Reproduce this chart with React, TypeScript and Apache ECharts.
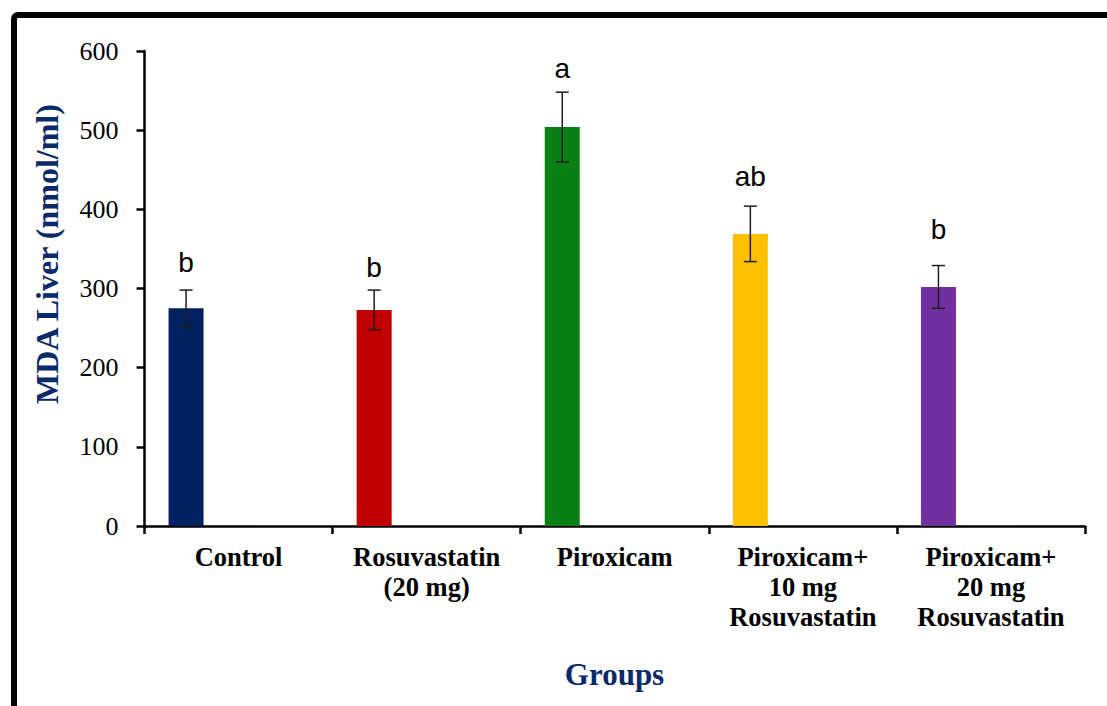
import React, { useEffect, useRef } from "react";
import * as echarts from "echarts";

const categories = [
  "Control",
  "Rosuvastatin\n(20 mg)",
  "Piroxicam",
  "Piroxicam+\n10 mg\nRosuvastatin",
  "Piroxicam+\n20 mg\nRosuvastatin",
];
const means = [275, 273, 504, 369, 302];
const errors = [23, 25, 44, 35, 27];
const letters = ["b", "b", "a", "ab", "b"];
const letterValues = [333, 326, 578, 441, 375];
const barColors = ["#002060", "#C00000", "#0A8014", "#FFC000", "#7030A0"];
const yMin = 0;
const yMax = 600;
const yInterval = 100;

const BAR_WIDTH = 35;
const BAR_GAP = 2; // 200%
const OFFSET = -(BAR_WIDTH * 2 + BAR_WIDTH * BAR_GAP) / 2 + BAR_WIDTH / 2;

export default function App() {
  const ref = useRef<HTMLDivElement>(null);
  useEffect(() => {
    if (!ref.current) return;
    const chart = echarts.init(ref.current, null, { renderer: "svg" });
    const serif = "'Liberation Serif', 'Times New Roman', serif";
    const blue = "#0b2a6b";
    chart.setOption({
      animation: false,
      backgroundColor: "#ffffff",
      grid: { left: 144.5, right: 22, top: 51, bottom: 180, containLabel: false },
      xAxis: {
        type: "category",
        data: categories,
        axisLine: { show: true, lineStyle: { color: "#000", width: 2.5 } },
        axisTick: { show: true, length: 8, lineStyle: { color: "#000", width: 2.5 } },
        axisLabel: {
          color: "#000",
          fontFamily: serif,
          fontWeight: "bold",
          fontSize: 26.5,
          lineHeight: 30,
          margin: 16,
          interval: 0,
        },
        splitLine: { show: false },
      },
      yAxis: {
        type: "value",
        min: yMin,
        max: yMax,
        interval: yInterval,
        axisLine: { show: true, lineStyle: { color: "#000", width: 2.5 } },
        axisTick: { show: true, length: 8, lineStyle: { color: "#000", width: 2.5 } },
        axisLabel: { color: "#000", fontFamily: serif, fontSize: 26, margin: 26 },
        splitLine: { show: false },
      },
      graphic: [
        {
          type: "rect",
          silent: true,
          z: 100,
          shape: { x: 14, y: 15, width: 1300, height: 900, r: 4 },
          style: { fill: "none", stroke: "#000", lineWidth: 6 },
        },
        {
          type: "text",
          x: 46.5,
          y: 254,
          rotation: Math.PI / 2,
          style: {
            text: "MDA Liver (nmol/ml)",
            font: `bold 32px ${serif}`,
            fill: blue,
            textAlign: "center",
            textVerticalAlign: "middle",
          },
        },
        {
          type: "text",
          x: 614.5,
          y: 674,
          style: {
            text: "Groups",
            font: `bold 31px ${serif}`,
            fill: blue,
            textAlign: "center",
            textVerticalAlign: "middle",
          },
        },
      ],
      series: [
        {
          type: "bar",
          barWidth: BAR_WIDTH,
          barGap: "200%",
          data: means.map((v, i) => ({ value: v, itemStyle: { color: barColors[i] } })),
        },
        {
          type: "bar",
          barWidth: BAR_WIDTH,
          data: means.map(() => "-"),
        },
        {
          type: "custom",
          data: means.map((m, i) => [i, m - errors[i], m + errors[i], letterValues[i]]),
          renderItem: (params: any, api: any) => {
            const idx = api.value(0);
            const lo = api.coord([idx, api.value(1)]);
            const hi = api.coord([idx, api.value(2)]);
            const lt = api.coord([idx, api.value(3)]);
            const x = lo[0] + OFFSET;
            const cap = 6.5;
            const s = { stroke: "#1e1e1e", lineWidth: 1.5 };
            return {
              type: "group",
              children: [
                { type: "line", shape: { x1: x, y1: lo[1], x2: x, y2: hi[1] }, style: s },
                { type: "line", shape: { x1: x - cap, y1: lo[1], x2: x + cap, y2: lo[1] }, style: s },
                { type: "line", shape: { x1: x - cap, y1: hi[1], x2: x + cap, y2: hi[1] }, style: s },
                {
                  type: "text",
                  x: x,
                  y: lt[1],
                  style: {
                    text: letters[params.dataIndex],
                    font: "28px 'Liberation Sans', Arial, sans-serif",
                    fill: "#000",
                    textAlign: "center",
                    textVerticalAlign: "middle",
                  },
                },
              ],
            };
          },
          z: 10,
        },
      ],
    });
    return () => chart.dispose();
  }, []);
  return (
    <div
      ref={ref}
      style={{ position: "absolute", left: 0, top: 0, width: 1107, height: 706 }}
    />
  );
}
